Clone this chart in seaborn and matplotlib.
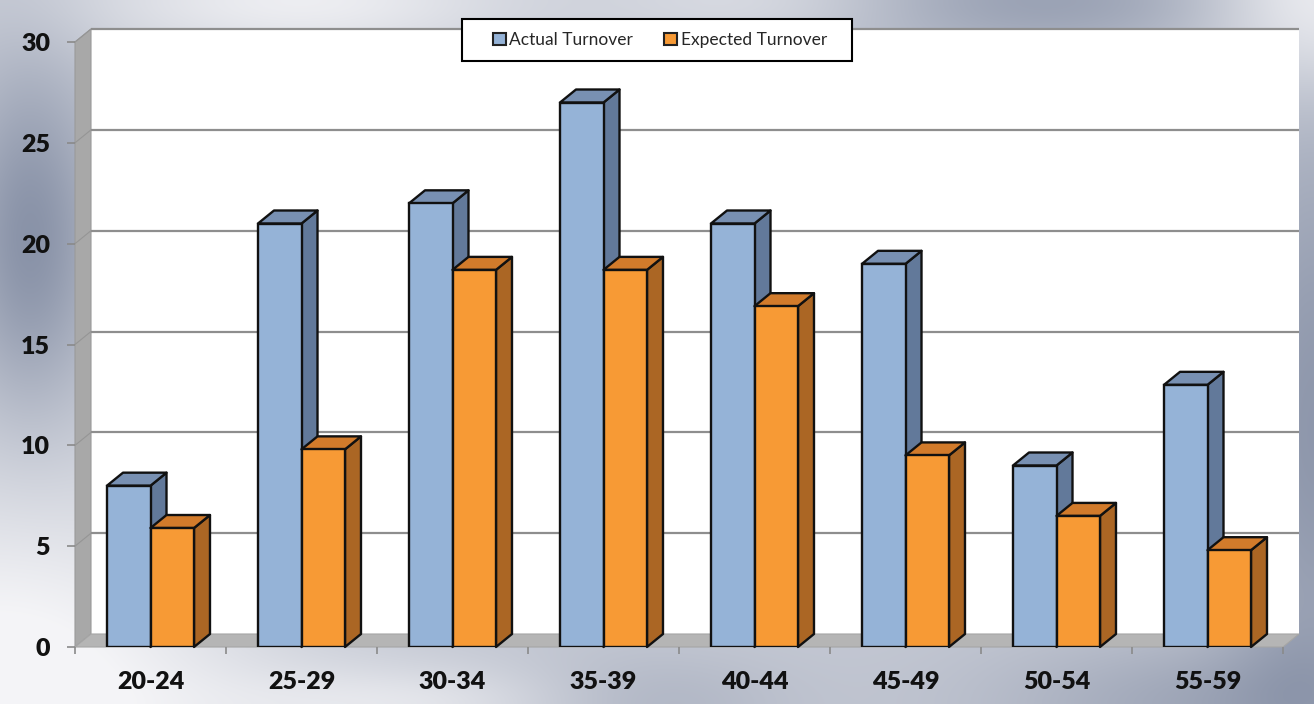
import numpy as np
import pandas as pd
import matplotlib
matplotlib.use("Agg")
import matplotlib.pyplot as plt
from matplotlib.patches import Polygon, Rectangle, Patch
import seaborn as sns

# ---- data ----
age_groups = ["20-24", "25-29", "30-34", "35-39", "40-44", "45-49", "50-54", "55-59"]
actual_turnover = [8, 21, 22, 27, 21, 19, 9, 13]
expected_turnover = [5.9, 9.8, 18.7, 18.7, 16.9, 9.5, 6.5, 4.8]
series_names = ["Actual Turnover", "Expected Turnover"]
y_ticks = [0, 5, 10, 15, 20, 25, 30]

df = pd.DataFrame({
    "age": age_groups * 2,
    "value": actual_turnover + expected_turnover,
    "series": [series_names[0]] * len(age_groups) + [series_names[1]] * len(age_groups),
})

# ---- styling ----
sns.set_theme(style="white")
plt.rcParams["font.family"] = ["Lato", "DejaVu Sans"]

front_cols = ["#95b3d7", "#f79a35"]
top_cols = ["#7890b2", "#d27b2b"]
side_cols = ["#62799a", "#ab6624"]
grid_col = "#8e8e8e"

W, H, DPI = 1314, 704, 100
fig = plt.figure(figsize=(W / DPI, H / DPI), dpi=DPI)

# brushed-metal style backdrop
bg = fig.add_axes([0, 0, 1, 1], zorder=-10)
yy, xx = np.mgrid[0:H, 0:W].astype(float)
t = np.full((H, W), 0.42)
def blob(cx, cy, sx, sy, amp):
    return amp * np.exp(-(((xx - cx) / sx) ** 2 + ((yy - cy) / sy) ** 2))
t += blob(30, 240, 70, 170, 0.5)
t += blob(1040, 0, 220, 60, 0.35)
t += blob(1314, 430, 90, 320, 0.45)
t += blob(1210, 704, 220, 70, 0.3)
t += blob(640, 704, 140, 50, 0.2)
t += blob(0, 704, 260, 220, -0.5)
t += blob(300, 0, 220, 60, -0.35)
t += blob(760, 0, 150, 40, -0.2)
t += blob(1314, 0, 110, 90, -0.45)
t += blob(420, 704, 200, 40, -0.25)
t = np.clip(t, 0, 1)[..., None]
light = np.array([0.96, 0.96, 0.97])
dark = np.array([0.50, 0.54, 0.63])
bg.imshow(light * (1 - t) + dark * t, aspect="auto", extent=[0, 1, 0, 1], origin="upper")
bg.set_axis_off()

# main axes = front plane of the 3D box
x0_px, x1_px, ybot_px, ytop_px = 75, 1283, 647, 42
ax = fig.add_axes([x0_px / W, 1 - ybot_px / H, (x1_px - x0_px) / W, (ybot_px - ytop_px) / H])
ax.set_facecolor("none")
n = len(age_groups)
ax.set_xlim(-0.5, n - 0.5)
ax.set_ylim(0, 30)

xpx = (x1_px - x0_px) / n
ypx = (ybot_px - ytop_px) / 30
dxd = 16 / xpx
dyd = 13 / ypx
xl, xr = -0.5, n - 0.5

# back wall
ax.add_patch(Rectangle((xl + dxd, dyd), xr - xl, 30, facecolor="white", edgecolor="none",
                       zorder=0.1, clip_on=False))
for v in y_ticks[1:]:
    ax.plot([xl + dxd, xr + dxd], [v + dyd, v + dyd], color=grid_col, lw=1.6,
            zorder=0.3, clip_on=False, solid_capstyle="butt")
# left wall
ax.add_patch(Polygon([(xl, 0), (xl, 30), (xl + dxd, 30 + dyd), (xl + dxd, dyd)], closed=True,
                     facecolor="#a8a8a8", edgecolor="#9a9a9a", lw=0.8, zorder=0.2, clip_on=False))
for v in y_ticks[1:]:
    ax.plot([xl, xl + dxd], [v, v + dyd], color="#959595", lw=0.8, zorder=0.25, clip_on=False)
# floor
ax.add_patch(Polygon([(xl, 0), (xr, 0), (xr + dxd, dyd), (xl + dxd, dyd)], closed=True,
                     facecolor="#b5b5b5", edgecolor="#a5a5a5", lw=0.8, zorder=0.4, clip_on=False))

# front faces of the bars
sns.barplot(data=df, x="age", y="value", hue="series", palette=front_cols, saturation=1,
            width=0.576, edgecolor="#111111", linewidth=1.7, legend=False, ax=ax)

bars = [p for p in ax.patches if isinstance(p, Rectangle) and p.get_height() > 0
        and abs(p.get_width() - 0.288) < 0.01]
for p in bars:
    fc = matplotlib.colors.to_hex(p.get_facecolor())
    k = 0 if fc == front_cols[0] else 1
    x, w, h = p.get_x(), p.get_width(), p.get_height()
    p.set_zorder(2.5 + 2 * k)
    side = Polygon([(x + w, 0), (x + w + dxd, dyd), (x + w + dxd, h + dyd), (x + w, h)], closed=True,
                   facecolor=side_cols[k], edgecolor="#111111", lw=1.7, zorder=2 + 2 * k,
                   joinstyle="round", clip_on=False)
    top = Polygon([(x, h), (x + dxd, h + dyd), (x + w + dxd, h + dyd), (x + w, h)], closed=True,
                  facecolor=top_cols[k], edgecolor="#111111", lw=1.7, zorder=2 + 2 * k,
                  joinstyle="round", clip_on=False)
    ax.add_patch(side)
    ax.add_patch(top)

# axes, ticks, labels
for s in ax.spines.values():
    s.set_visible(False)
ax.set_xlabel("")
ax.set_ylabel("")
ax.set_xticks(range(n))
ax.set_xticklabels(age_groups, fontsize=18, fontweight="heavy", color="#111111")
ax.set_xticks(np.arange(n + 1) - 0.5, minor=True)
ax.tick_params(axis="x", which="major", length=0, pad=17)
ax.tick_params(axis="x", which="minor", length=5, width=1.2, color="#8a8a8a", bottom=True)
ax.set_yticks(y_ticks)
ax.set_yticklabels([str(v) for v in y_ticks], fontsize=18, fontweight="heavy", color="#111111")
ax.tick_params(axis="y", which="major", length=6, width=1.2, color="#8a8a8a", pad=12, left=True)
ax.grid(False)

# legend
fig.patches.append(Rectangle((462 / W, 1 - 61 / H), 390 / W, 42 / H, transform=fig.transFigure,
                             facecolor="white", edgecolor="black", lw=1.5, zorder=5))
handles = [Patch(facecolor=front_cols[i], edgecolor="#222222", lw=1.5, label=series_names[i])
           for i in range(2)]
leg = fig.legend(handles=handles, loc="center", bbox_to_anchor=(660 / W, 1 - 40 / H), ncol=2,
                 frameon=False, fontsize=12.5, handlelength=0.75, handleheight=0.75,
                 handletextpad=0.2, columnspacing=1.8)
leg.set_zorder(6)

fig.savefig("out.png", dpi=DPI)
